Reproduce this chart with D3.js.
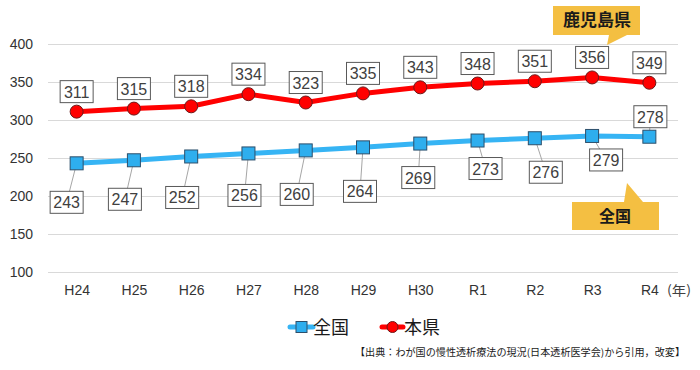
<!DOCTYPE html>
<html lang="ja">
<head>
<meta charset="utf-8">
<title>透析患者数 推移</title>
<script src="https://d3js.org/d3.v7.min.js"></script>
<style>
  body { margin: 0; background: #fff; }
  svg { display: block; }
  .num { font-family: "Liberation Sans", Arial, sans-serif; }
  .jp { font-family: "Noto Sans CJK JP", "Noto Sans", sans-serif; }
</style>
</head>
<body>
<div id="chart"></div>
<script>
// data
const years = ["H24", "H25", "H26", "H27", "H28", "H29", "H30", "R1", "R2", "R3", "R4"];
const zenkoku = [243, 247, 252, 256, 260, 264, 269, 273, 276, 279, 278];
const honken = [311, 315, 318, 334, 323, 335, 343, 348, 351, 356, 349];
const yTicks = [100, 150, 200, 250, 300, 350, 400];

// label placement for the 全国 series (pixel offsets from the point)
const zenkokuLabelOffsets = [
  [-10, 39], [-9, 39], [-9, 41], [-4, 42], [-9, 44], [-3, 44],
  [-2, 34], [8, 28], [11, 34], [14, 24], [1, -20]
];

const width = 700, height = 370;
const margin = {top: 44, right: 22, bottom: 98, left: 48};

const svg = d3.select("#chart").append("svg")
  .attr("width", width)
  .attr("height", height);

const x = d3.scalePoint()
  .domain(years)
  .range([margin.left, width - margin.right])
  .padding(0.5);

const y = d3.scaleLinear()
  .domain([100, 400])
  .range([height - margin.bottom, margin.top]);

// gridlines + y labels
const yAxis = g => g
  .attr("transform", `translate(${margin.left},0)`)
  .call(d3.axisLeft(y).tickValues(yTicks).tickSize(-(width - margin.left - margin.right)).tickPadding(15))
  .call(g => g.select(".domain").remove())
  .call(g => g.selectAll(".tick line").attr("stroke", "#d9d9d9"))
  .call(g => g.selectAll(".tick text")
    .attr("class", "num")
    .attr("font-size", 14)
    .attr("fill", "#333"));
svg.append("g").call(yAxis);

// x labels
const xAxis = g => g
  .attr("transform", `translate(0,${height - margin.bottom})`)
  .call(d3.axisBottom(x).tickSize(0).tickPadding(13))
  .call(g => g.select(".domain").remove())
  .call(g => g.selectAll(".tick text")
    .attr("class", "num")
    .attr("font-size", 14)
    .attr("fill", "#333"));
svg.append("g").call(xAxis);

svg.append("text")
  .attr("class", "jp")
  .attr("x", 667)
  .attr("y", 295)
  .attr("font-size", 13)
  .attr("fill", "#404040")
  .attr("textLength", 24)
  .attr("lengthAdjust", "spacingAndGlyphs")
  .text("(年)");

const line = d3.line()
  .x((d, i) => x(years[i]))
  .y(d => y(d));

// lines
svg.append("path")
  .datum(zenkoku)
  .attr("fill", "none")
  .attr("stroke", "#36b4f4")
  .attr("stroke-width", 5)
  .attr("stroke-linejoin", "round")
  .attr("d", line);

svg.append("path")
  .datum(honken)
  .attr("fill", "none")
  .attr("stroke", "#ff0000")
  .attr("stroke-width", 5)
  .attr("stroke-linejoin", "round")
  .attr("d", line);

// leader lines for 全国 labels
svg.append("g")
  .selectAll("line")
  .data(zenkoku)
  .join("line")
  .attr("x1", (d, i) => x(years[i]))
  .attr("y1", d => y(d))
  .attr("x2", (d, i) => x(years[i]) + zenkokuLabelOffsets[i][0])
  .attr("y2", (d, i) => y(d) + zenkokuLabelOffsets[i][1])
  .attr("stroke", "#a6a6a6")
  .attr("stroke-width", 1);

// markers
svg.append("g")
  .selectAll("rect")
  .data(zenkoku)
  .join("rect")
  .attr("x", (d, i) => x(years[i]) - 6.5)
  .attr("y", d => y(d) - 6.5)
  .attr("width", 13)
  .attr("height", 13)
  .attr("fill", "#2eaeee")
  .attr("stroke", "#2d4f6b")
  .attr("stroke-width", 1);

svg.append("g")
  .selectAll("circle")
  .data(honken)
  .join("circle")
  .attr("cx", (d, i) => x(years[i]))
  .attr("cy", d => y(d))
  .attr("r", 6.5)
  .attr("fill", "#ff0000")
  .attr("stroke", "#6b1a1a")
  .attr("stroke-width", 1);

// boxed value labels
function boxLabel(g, cx, cy, txt) {
  const w = 33, h = 22;
  g.append("rect")
    .attr("x", cx - w / 2)
    .attr("y", cy - h / 2)
    .attr("width", w)
    .attr("height", h)
    .attr("fill", "#fff")
    .attr("stroke", "#595959")
    .attr("stroke-width", 1);
  g.append("text")
    .attr("class", "num")
    .attr("x", cx)
    .attr("y", cy + 6)
    .attr("text-anchor", "middle")
    .attr("font-size", 16)
    .attr("fill", "#404040")
    .text(txt);
}

const labels = svg.append("g");
honken.forEach((d, i) => boxLabel(labels, x(years[i]), y(d) - 20, d));
zenkoku.forEach((d, i) => boxLabel(labels,
  x(years[i]) + zenkokuLabelOffsets[i][0],
  y(d) + zenkokuLabelOffsets[i][1], d));

// callouts
const calloutColor = "#f4bf42";
svg.append("path")
  .attr("d", "M553,6 H640 V35 H627 L607,45 L609,35 H553 Z")
  .attr("fill", calloutColor);
svg.append("text")
  .attr("class", "jp")
  .attr("x", 597)
  .attr("y", 26)
  .attr("text-anchor", "middle")
  .attr("font-size", 17)
  .attr("font-weight", "bold")
  .attr("fill", "#1a1a1a")
  .text("鹿児島県");

svg.append("path")
  .attr("d", "M572,202 H624 L627,183 L643,202 H659 V230 H572 Z")
  .attr("fill", calloutColor);
svg.append("text")
  .attr("class", "jp")
  .attr("x", 615)
  .attr("y", 222)
  .attr("text-anchor", "middle")
  .attr("font-size", 16)
  .attr("font-weight", "bold")
  .attr("fill", "#1a1a1a")
  .text("全国");

// legend
const legend = svg.append("g");
const ly = 327;
legend.append("line")
  .attr("x1", 290).attr("x2", 313).attr("y1", ly).attr("y2", ly)
  .attr("stroke", "#36b4f4").attr("stroke-width", 5).attr("stroke-linecap", "round");
legend.append("rect")
  .attr("x", 296).attr("y", ly - 5.5).attr("width", 11).attr("height", 11)
  .attr("fill", "#2eaeee").attr("stroke", "#2d4f6b");
legend.append("text")
  .attr("class", "jp")
  .attr("x", 313).attr("y", ly + 7)
  .attr("font-size", 18).attr("fill", "#1a1a1a")
  .text("全国");

legend.append("line")
  .attr("x1", 382).attr("x2", 403).attr("y1", ly).attr("y2", ly)
  .attr("stroke", "#ff0000").attr("stroke-width", 5).attr("stroke-linecap", "round");
legend.append("circle")
  .attr("cx", 392.5).attr("cy", ly).attr("r", 5.5)
  .attr("fill", "#ff0000").attr("stroke", "#6b1a1a");
legend.append("text")
  .attr("class", "jp")
  .attr("x", 404).attr("y", ly + 7)
  .attr("font-size", 18).attr("fill", "#1a1a1a")
  .text("本県");

// source note
svg.append("text")
  .attr("class", "jp")
  .attr("x", 355)
  .attr("y", 356)
  .attr("font-size", 10)
  .attr("fill", "#1a1a1a")
  .attr("textLength", 330)
  .attr("lengthAdjust", "spacingAndGlyphs")
  .text("【出典：わが国の慢性透析療法の現況(日本透析医学会)から引用，改変】");
</script>
</body>
</html>
